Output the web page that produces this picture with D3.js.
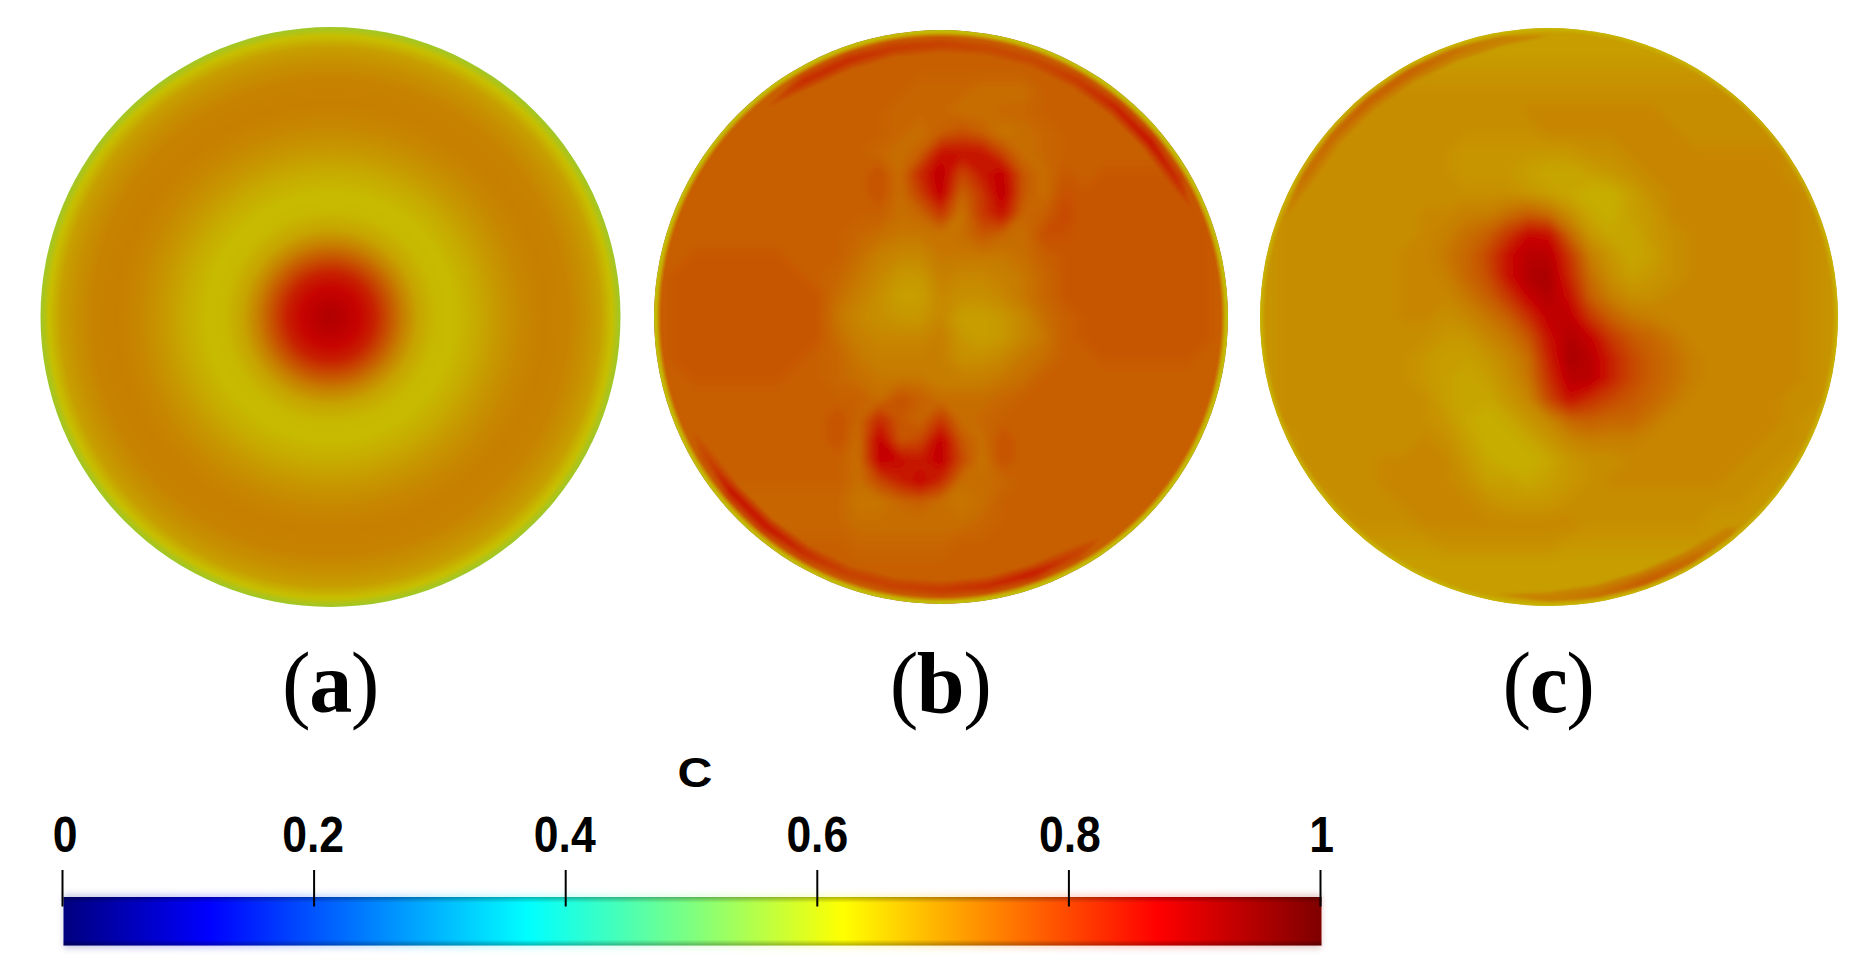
<!DOCTYPE html>
<html>
<head>
<meta charset="utf-8">
<script src="https://cdn.jsdelivr.net/npm/d3@7"></script>
<style>
  html, body { margin: 0; background: #fff; overflow: hidden; }
</style>
</head>
<body>
<div id="chart"></div>
<script>
// Colour map of the bar ----------------------------------------------------------
const colorStops = [0, 0.115, 0.37, 0.5, 0.62, 0.87, 1];
const colorValues = ["#00007f", "#0000ff", "#00ffff", "#7fff7f", "#ffff00", "#ff0000", "#7f0000"];
const barTicks = [0, 0.2, 0.4, 0.6, 0.8, 1];
const barTitle = "C";
const panelLabels = ["a", "b", "c"];

// Disc (a): value (in % of C) against the relative radius
const aRadii = [0, 0.05, 0.1, 0.15, 0.2, 0.25, 0.3, 0.36, 0.42, 0.5, 0.58, 0.66, 0.74, 0.82, 0.88, 0.93, 0.97, 1];
const aValues = [90, 88.5, 86.5, 83, 77, 71, 66.5, 64, 63.5, 65.5, 68, 70, 71, 70.5, 69, 67, 63, 57];

// Disc (b): 29 x 29 grid of values (% of C) across the disc
const bField = [
75,75,75,75,75,75,75,75,75,75,75,75,75,75,75,75,75,75,75,75,75,75,75,75,75,75,75,75,75,
75,75,75,75,75,75,75,75,75,75,75,75,75,75,75,75,75,75,75,75,75,75,75,75,75,75,75,75,75,
75,75,75,75,75,75,75,75,75,75,75,75,75,75,75,75,75,75,75,75,75,75,75,75,75,75,75,75,75,
75,75,75,75,75,75,75,75,75,75,75,75,75,74,74,74,73,73,73,75,75,75,75,75,75,75,75,75,75,
75,75,75,75,75,75,75,75,75,75,75,75,74,74,74,73,73,74,74,75,75,75,75,75,75,75,75,75,75,
75,75,75,75,75,75,75,75,75,75,75,75,74,73,75,77,75,72,73,74,75,75,75,75,75,75,75,75,75,
75,75,75,75,75,75,75,75,75,75,75,74,73,75,85,85,85,78,73,74,75,75,75,75,75,75,75,75,75,
75,75,75,75,75,75,75,75,75,75,75,77,73,82,89,78,84,88,76,73,76,75,76,76,76,76,76,75,75,
75,75,75,75,75,75,75,75,75,75,75,77,73,79,88,74,80,89,76,73,77,76,76,76,76,76,76,76,75,
75,75,75,75,75,75,75,75,75,75,75,75,73,74,80,72,80,85,74,75,78,76,76,76,76,76,76,76,75,
75,75,75,75,75,75,75,75,75,75,74,73,72,72,72,73,76,74,73,77,77,76,76,76,76,76,76,76,75,
75,75,76,76,76,76,76,75,75,75,73,71,70,70,72,72,72,72,73,75,76,76,76,76,76,76,76,76,75,
75,76,76,76,76,76,76,76,75,74,72,70,68,68,71,70,70,71,72,74,76,76,76,76,76,76,76,76,75,
75,76,76,76,76,76,76,76,76,73,71,69,67,67,70,69,69,70,72,74,76,76,76,76,76,76,76,76,75,
75,76,76,76,76,76,76,76,76,72,70,69,68,68,70,67,67,68,70,73,75,76,76,76,76,76,76,76,75,
75,76,76,76,76,76,76,76,76,73,71,70,70,70,71,68,67,68,70,72,75,76,76,76,76,76,76,76,75,
75,76,76,76,76,76,76,76,75,74,72,71,71,71,71,69,69,70,72,73,75,75,76,76,76,76,76,75,75,
75,75,76,76,76,76,76,75,75,74,73,72,72,72,71,71,71,72,73,75,75,75,75,75,75,75,75,75,75,
75,75,75,75,75,75,75,75,75,75,75,73,77,75,73,73,73,74,75,75,75,75,75,75,75,75,75,75,75,
75,75,75,75,75,75,75,75,75,77,74,82,76,74,80,73,74,75,75,75,75,75,75,75,75,75,75,75,75,
75,75,75,75,75,75,75,75,75,77,73,88,76,78,88,76,73,77,75,75,75,75,75,75,75,75,75,75,75,
75,75,75,75,75,75,75,75,75,75,73,88,86,84,88,78,72,77,75,75,75,75,75,75,75,75,75,75,75,
75,75,75,75,75,75,75,75,75,75,73,78,83,87,82,73,73,74,75,75,75,75,75,75,75,75,75,75,75,
74,74,74,74,74,74,74,74,74,74,72,72,74,75,73,72,73,75,75,75,75,75,75,75,75,75,75,75,75,
74,74,74,74,74,74,74,74,74,74,73,73,73,73,73,73,74,75,75,75,75,75,75,75,75,75,75,75,75,
75,75,75,75,75,75,75,75,75,75,74,74,74,74,74,75,75,75,75,75,75,75,75,75,75,75,75,75,75,
75,75,75,75,75,75,75,75,75,75,75,75,75,75,75,75,75,75,75,75,75,75,75,75,75,75,75,75,75,
75,75,75,75,75,75,75,75,75,75,75,75,75,75,75,75,75,75,75,75,75,75,75,75,75,75,75,75,75,
75,75,75,75,75,75,75,75,75,75,75,75,75,75,75,75,75,75,75,75,75,75,75,75,75,75,75,75,75
];

// Disc (c): same grid
const cField = [
67,67,67,67,67,67,67,67,67,67,67,67,67,67,67,67,67,67,67,67,67,67,67,67,67,67,67,67,67,
67,67,67,67,67,67,67,67,67,67,67,67,67,67,67,67,67,67,67,67,67,67,67,67,67,67,67,67,67,
68,68,68,68,68,68,68,68,68,68,68,68,68,68,68,68,68,68,68,68,68,68,68,68,68,68,68,68,68,
68,68,68,68,68,69,69,69,69,69,69,69,69,69,69,69,69,69,69,69,69,69,69,69,69,68,68,68,68,
68,68,68,68,69,69,69,69,69,69,69,69,69,70,70,70,70,70,70,70,69,69,69,69,69,68,68,68,68,
68,68,68,69,69,69,69,69,69,69,69,69,69,69,70,70,70,70,70,70,70,69,69,69,69,69,69,68,68,
68,68,69,69,69,69,69,69,69,69,68,68,68,68,68,68,69,69,70,70,70,70,70,70,70,70,69,69,68,
68,68,69,69,69,69,69,69,69,69,68,68,68,67,66,66,67,68,69,70,70,70,70,70,70,70,69,69,68,
68,68,69,69,69,69,69,69,69,69,69,69,69,68,67,66,65,65,67,69,70,70,70,70,70,70,70,69,68,
68,69,69,69,69,69,69,69,70,70,71,71,73,75,73,69,66,65,67,68,70,70,70,70,70,70,70,69,68,
68,69,69,69,69,69,69,69,70,71,73,75,80,86,85,74,68,66,66,68,69,70,70,70,70,70,70,69,68,
68,69,69,69,69,69,69,70,70,72,74,78,85,89,89,80,71,68,66,67,69,70,70,70,70,70,70,69,68,
68,69,69,69,69,69,69,70,70,71,74,77,85,90,91,82,73,69,67,68,69,70,70,70,70,70,70,69,68,
68,69,69,69,69,69,69,70,70,70,72,75,80,87,90,85,75,71,69,69,70,70,70,70,70,70,70,69,68,
68,69,69,69,69,69,69,70,70,69,70,72,75,81,88,88,80,75,72,71,70,70,70,70,70,70,70,69,68,
68,69,69,69,69,69,69,69,69,68,68,70,72,76,85,90,87,80,76,74,72,70,70,70,70,70,70,69,68,
68,69,69,69,69,69,69,69,68,67,67,68,70,73,83,91,89,83,78,75,73,71,70,70,70,70,70,69,68,
68,69,69,69,69,69,69,69,68,67,66,67,69,72,81,89,89,83,78,75,73,71,70,70,70,70,70,69,68,
68,69,69,69,69,69,69,69,69,67,66,66,68,70,78,85,81,78,76,74,72,70,70,70,70,70,69,69,68,
68,69,69,69,69,69,69,69,69,68,66,65,66,68,70,74,75,74,74,72,70,70,70,70,70,70,69,68,68,
68,68,69,69,69,69,69,69,70,69,67,65,65,66,68,70,71,71,71,70,70,70,70,70,70,69,69,68,68,
68,68,69,69,69,69,70,70,70,70,68,66,65,65,66,68,69,69,70,70,70,70,70,70,69,69,68,68,68,
68,68,68,69,69,69,70,70,70,70,69,67,67,66,67,68,69,70,70,70,70,70,70,69,69,68,68,68,68,
68,68,68,68,69,69,69,70,70,70,70,69,68,68,68,69,69,69,69,69,69,69,69,69,68,68,68,68,68,
68,68,68,68,68,69,69,69,70,70,70,70,70,70,70,70,69,69,69,69,69,69,68,68,68,68,68,68,68,
68,68,68,68,68,68,68,68,68,69,69,69,69,69,69,68,68,68,68,68,68,68,68,68,68,68,68,68,68,
67,67,67,67,67,67,67,67,67,67,67,67,67,67,67,67,67,67,67,67,67,67,67,67,67,67,67,67,67,
67,67,67,67,67,67,67,67,67,67,67,67,67,67,67,67,67,67,67,67,67,67,67,67,67,67,67,67,67,
67,67,67,67,67,67,67,67,67,67,67,67,67,67,67,67,67,67,67,67,67,67,67,67,67,67,67,67,67
];
const gridSize = 29;

// Bands near the wall: peak value at each angle (0,10..360 deg, clockwise from east)
const rimAngles = d3.range(0, 361, 10);
const bRimPeak = [70,70,70,70,70,74,79,84,82,80,79,79,82,85,85,78,74,74,74,74,74,74,74,76,82,82,80,79,78,78,80,83,85,82,74,70,70];
const cRimPeak = [66,66,66,66,66,71,74,76,73,71,70,66,66,66,66,66,66,66,66,66,70,73,74,75,75,73,71,70,66,66,66,66,66,66,66,66,66];
const bRimRadii = [0.915, 0.95, 0.985];
const cRimRadii = [0.93, 0.975, 1.0];

// Thin light edge of discs (b) and (c)
const bEdgeRadii = [0.975, 0.99, 1];
const bEdgeValues = [66, 64, 60];
const bEdgeAlpha = [0, 0.9, 1];
const cEdgeRadii = [0.98, 1];
const cEdgeValues = [64, 63];
const cEdgeAlpha = [0, 0.8];

// 1- Set up the page --------------------------------------------------------------
const svgWidth = 1871;
const svgHeight = 973;
const dimFactor = 0.78;   // discs are drawn darker than the bar

const discs = [
  {cx: 330.5, cy: 317, r: 290},
  {cx: 941, cy: 317, r: 287},
  {cx: 1549, cy: 317, r: 289}
];
const labelX = [330, 940, 1548];
const tickLabelShift = [2.5, -1, -1, 0, 1, 1];

const svg = d3.select("#chart")
  .append("svg")
  .attr("width", svgWidth)
  .attr("height", svgHeight)
  .style("display", "block");
const defs = svg.append("defs");

defs.append("filter").attr("id", "soften")
  .attr("x", "-5%").attr("y", "-5%").attr("width", "110%").attr("height", "110%")
  .append("feGaussianBlur").attr("stdDeviation", 3.5);
defs.append("filter").attr("id", "softenRim")
  .attr("x", "-5%").attr("y", "-5%").attr("width", "110%").attr("height", "110%")
  .append("feGaussianBlur").attr("stdDeviation", 1.5);
defs.append("filter").attr("id", "halo")
  .attr("x", "-2%").attr("y", "-30%").attr("width", "104%").attr("height", "160%")
  .append("feGaussianBlur").attr("stdDeviation", 3);

// 2- Colour scales ----------------------------------------------------------------
const barColor = d3.scaleLinear().domain(colorStops).range(colorValues);

function discColor(value) {
  const c = d3.rgb(barColor(value / 100));
  return d3.rgb(c.r * dimFactor, c.g * dimFactor, c.b * dimFactor).formatHex();
}

function radialFill(id, disc, radii, values, alphas) {
  const offset = d3.scaleLinear().domain([0, 1]).range(["0%", "100%"]);
  const grad = defs.append("radialGradient")
    .attr("id", id)
    .attr("gradientUnits", "userSpaceOnUse")
    .attr("cx", disc.cx).attr("cy", disc.cy).attr("r", disc.r);
  radii.forEach((rr, i) => {
    grad.append("stop")
      .attr("offset", offset(rr))
      .attr("stop-color", discColor(values[i]))
      .attr("stop-opacity", alphas ? alphas[i] : 1);
  });
  return `url(#${id})`;
}

// 3- Contoured discs --------------------------------------------------------------
function drawField(layer, disc, field) {
  const xs = d3.scaleLinear().domain([0.5, gridSize - 0.5]).range([disc.cx - disc.r, disc.cx + disc.r]);
  const ys = d3.scaleLinear().domain([0.5, gridSize - 0.5]).range([disc.cy - disc.r, disc.cy + disc.r]);
  const path = d3.geoPath(d3.geoTransform({
    point(x, y) { this.stream.point(xs(x), ys(y)); }
  }));
  const levels = d3.range(d3.min(field), d3.max(field) + 0.5, 0.5);
  const contours = d3.contours().size([gridSize, gridSize]).thresholds(levels)(field);
  layer.append("g")
    .attr("filter", "url(#soften)")
    .selectAll("path")
    .data(contours)
    .join("path")
    .attr("d", path)
    .attr("fill", d => discColor(d.value + 0.25));
}

function drawRim(layer, disc, peaks, radii, floor) {
  const rows = [peaks.map(() => floor), peaks, peaks.map(() => floor)].flat();
  const angle = d3.scaleLinear().domain([0.5, rimAngles.length - 0.5]).range([0, 360]);
  const radius = d3.scaleLinear().domain([0.5, 1.5, 2.5]).range(radii);
  const path = d3.geoPath(d3.geoTransform({
    point(x, y) {
      const a = angle(x) * Math.PI / 180;
      const rr = radius(y) * disc.r;
      this.stream.point(disc.cx + rr * Math.cos(a), disc.cy + rr * Math.sin(a));
    }
  }));
  const levels = d3.range(floor + 1, d3.max(peaks) + 0.5, 0.5);
  const contours = d3.contours().size([rimAngles.length, 3]).thresholds(levels)(rows);
  layer.append("g")
    .attr("filter", "url(#softenRim)")
    .selectAll("path")
    .data(contours)
    .join("path")
    .attr("d", path)
    .attr("fill", d => discColor(d.value + 0.25));
}

discs.forEach((disc, i) => {
  defs.append("clipPath").attr("id", `clip${i}`)
    .append("circle").attr("cx", disc.cx).attr("cy", disc.cy).attr("r", disc.r);
});

// disc (a) is a radial profile
svg.append("circle")
  .attr("cx", discs[0].cx).attr("cy", discs[0].cy).attr("r", discs[0].r)
  .attr("fill", radialFill("fillA", discs[0], aRadii, aValues));

const layerB = svg.append("g").attr("clip-path", "url(#clip1)");
drawField(layerB, discs[1], bField);
drawRim(layerB, discs[1], bRimPeak, bRimRadii, 75);
layerB.append("circle")
  .attr("cx", discs[1].cx).attr("cy", discs[1].cy).attr("r", discs[1].r)
  .attr("fill", radialFill("edgeB", discs[1], bEdgeRadii, bEdgeValues, bEdgeAlpha));

const layerC = svg.append("g").attr("clip-path", "url(#clip2)");
drawField(layerC, discs[2], cField);
drawRim(layerC, discs[2], cRimPeak, cRimRadii, 69);
layerC.append("circle")
  .attr("cx", discs[2].cx).attr("cy", discs[2].cy).attr("r", discs[2].r)
  .attr("fill", radialFill("edgeC", discs[2], cEdgeRadii, cEdgeValues, cEdgeAlpha));

// 4- Panel labels -----------------------------------------------------------------
const labels = svg.append("g")
  .attr("font-family", "'Liberation Serif', serif")
  .attr("font-size", 86)
  .attr("letter-spacing", -1.5)
  .attr("text-anchor", "middle")
  .selectAll("text")
  .data(panelLabels)
  .join("text")
  .attr("x", (d, i) => labelX[i])
  .attr("y", 712);
labels.append("tspan").text("(");
labels.append("tspan").attr("font-weight", "bold").text(d => d);
labels.append("tspan").text(")");

// 5- Colour bar -------------------------------------------------------------------
const barX = d3.scaleLinear().domain([0, 1]).range([62, 1320]);
const barTop = 897;
const barHeight = 48.5;

const barGrad = defs.append("linearGradient").attr("id", "barFill");
colorStops.forEach((s, i) => {
  barGrad.append("stop").attr("offset", `${s * 100}%`).attr("stop-color", colorValues[i]);
});
const barShade = defs.append("linearGradient").attr("id", "barShade")
  .attr("x1", 0).attr("x2", 0).attr("y1", 0).attr("y2", 1);
[[0, 0.3], [0.12, 0], [0.88, 0], [1, 0.3]].forEach(s => {
  barShade.append("stop").attr("offset", s[0]).attr("stop-color", "#000").attr("stop-opacity", s[1]);
});

svg.append("rect")
  .attr("x", barX(0) + 1.5).attr("y", barTop - 3)
  .attr("width", barX(1) - barX(0)).attr("height", barHeight + 6)
  .attr("fill", "url(#barFill)").attr("opacity", 0.2)
  .attr("filter", "url(#halo)");
svg.append("rect")
  .attr("x", barX(0) + 1.5).attr("y", barTop)
  .attr("width", barX(1) - barX(0)).attr("height", barHeight)
  .attr("fill", "url(#barFill)");
svg.append("rect")
  .attr("x", barX(0) + 1.5).attr("y", barTop)
  .attr("width", barX(1) - barX(0)).attr("height", barHeight)
  .attr("fill", "url(#barShade)");

const barAxis = d3.axisTop(barX)
  .tickValues(barTicks)
  .tickFormat(d3.format("~g"))
  .tickSize(36.5)
  .tickPadding(18);

const axisGroup = svg.append("g")
  .attr("transform", "translate(0,906.5)")
  .call(barAxis);
axisGroup.select(".domain").remove();
axisGroup.selectAll(".tick line").attr("stroke", "#000").attr("stroke-width", 2);
// narrow the glyphs, nudge each label to where it sits over its tick
axisGroup.selectAll(".tick text")
  .attr("font-family", "'Liberation Sans', sans-serif")
  .attr("font-weight", "bold")
  .attr("font-size", 50)
  .attr("fill", "#000")
  .attr("transform", "scale(0.89,1)")
  .attr("x", (d, i) => tickLabelShift[i] / 0.89);

svg.append("text")
  .attr("transform", "translate(695,787) scale(1.15,1)")
  .attr("text-anchor", "middle")
  .attr("font-family", "'Liberation Sans', sans-serif")
  .attr("font-weight", "bold")
  .attr("font-size", 42)
  .text(barTitle);
</script>
</body>
</html>
